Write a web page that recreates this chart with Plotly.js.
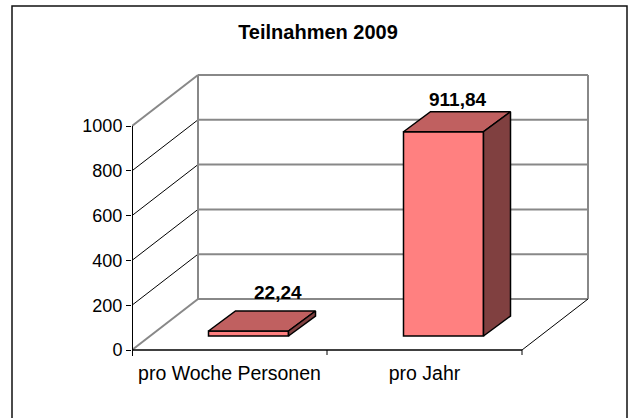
<!DOCTYPE html>
<html>
<head>
<meta charset="utf-8">
<script src="https://cdn.plot.ly/plotly-3.0.1.min.js"></script>
<style>html,body{margin:0;padding:0;background:#fff;}#chart{width:634px;height:418px;}</style>
</head>
<body>
<div id="chart"></div>
<script>
// ---- data ----
const categories = ['pro Woche Personen', 'pro Jahr'];
const values = [22.24, 911.84];
const yTickVals = [0, 200, 400, 600, 800, 1000];
const yTickText = ['0', '200', '400', '600', '800', '1000'];
const chartTitle = 'Teilnahmen 2009';

// ---- geometry / style (pixel based) ----
const W = 634, H = 418;
const PX_CAT = 195;          // px per category (front plane)
const PX_VAL = 0.224;        // px per value unit
const M = {l: 132, r: 42, t: 72, b: 62};
const plotW = W - M.l - M.r, plotH = H - M.t - M.b;
const padBottomPx = 6;
const xMin = -0.5, xMax = xMin + plotW / PX_CAT;
const yMin = -padBottomPx / PX_VAL, yMax = yMin + plotH / PX_VAL;
const DX = 66 / PX_CAT, DY = 51 / PX_VAL;        // wall depth
const FX = 19 / PX_CAT, FY = 14 / PX_VAL;        // bar front-face offset
const BX = 27 / PX_CAT, BY = 20 / PX_VAL;        // bar depth
const BW = 80 / PX_CAT;                          // bar width
const nCat = categories.length;
const xFrontEnd = xMin + nCat;                   // right end of front floor
const labelXShift = [16, 0];
const labelYShift = [6, 0];
const FONT = 'Arial, "Liberation Sans", sans-serif';

const fmt = v => v.toFixed(2).replace('.', ',');
const xc = values.map((v, i) => i + FX);

// ---- traces ----
const front = {
  type: 'bar', x: xc, y: values, base: values.map(() => FY), width: values.map(() => BW),
  marker: {color: '#FF8080', line: {color: '#000', width: 1.5}}, hoverinfo: 'skip'
};
const topX = [], topY = [], sideX = [], sideY = [];
values.forEach((v, i) => {
  const l = xc[i] - BW / 2, r = xc[i] + BW / 2, t = v + FY, b = FY;
  topX.push(l, r, r + BX, l + BX, l, null);
  topY.push(t, t, t + BY, t + BY, t, null);
  sideX.push(r, r + BX, r + BX, r, r, null);
  sideY.push(b, b + BY, t + BY, t, b, null);
});
const topFace = {type: 'scatter', mode: 'lines', x: topX, y: topY, fill: 'toself',
  fillcolor: '#C06060', line: {color: '#000', width: 1.5}, hoverinfo: 'skip', connectgaps: false};
const sideFace = {type: 'scatter', mode: 'lines', x: sideX, y: sideY, fill: 'toself',
  fillcolor: '#804040', line: {color: '#000', width: 1.5}, hoverinfo: 'skip', connectgaps: false};

// ---- wall shapes ----
const shapes = [];
const grey = {color: '#888888', width: 2};
const thin = {color: '#000000', width: 1};
yTickVals.forEach((v, k) => {
  shapes.push({type: 'line', layer: 'below', x0: xMin + DX, x1: xFrontEnd + DX, y0: v + DY, y1: v + DY, line: grey});
  const edge = (k === 0 || k === yTickVals.length - 1);
  shapes.push({type: 'line', layer: 'below', x0: xMin, x1: xMin + DX, y0: v, y1: v + DY, line: edge ? grey : thin});
});
const vTop = yTickVals[yTickVals.length - 1];
shapes.push({type: 'line', layer: 'below', x0: xMin + DX, x1: xMin + DX, y0: DY, y1: vTop + DY, line: grey});
shapes.push({type: 'line', layer: 'below', x0: xFrontEnd + DX, x1: xFrontEnd + DX, y0: DY, y1: vTop + DY, line: grey});
shapes.push({type: 'line', layer: 'below', x0: xFrontEnd, x1: xFrontEnd + DX, y0: 0, y1: DY, line: thin});
shapes.push({type: 'line', layer: 'above', x0: xMin, x1: xFrontEnd, y0: 0, y1: 0, line: {color: '#000', width: 1.5}});
shapes.push({type: 'line', layer: 'above', x0: xMin, x1: xMin, y0: yMin, y1: vTop, line: {color: '#000', width: 2}});
for (let i = 0; i <= nCat; i++) {
  shapes.push({type: 'line', layer: 'above', x0: xMin + i, x1: xMin + i, y0: 0, y1: -5 / PX_VAL, line: {color: '#000', width: 1}});
}
// outer chart border
const px2x = px => (px - M.l) / plotW, px2y = py => (H - M.b - py) / plotH;
shapes.push({type: 'rect', xref: 'paper', yref: 'paper', x0: px2x(12), x1: px2x(627), y0: px2y(6), y1: px2y(425),
  line: {color: '#111', width: 1.5}, fillcolor: 'rgba(0,0,0,0)'});

// ---- annotations ----
const annotations = values.map((v, i) => ({
  x: xc[i] + BX / 2, y: v + FY + BY, xref: 'x', yref: 'y', text: '<b>' + fmt(v) + '</b>',
  showarrow: false, xanchor: 'center', yanchor: 'bottom', xshift: labelXShift[i], yshift: labelYShift[i],
  font: {family: FONT, size: 19, color: '#000'}
}));

const layout = {
  width: W, height: H, margin: M, showlegend: false,
  paper_bgcolor: '#fff', plot_bgcolor: '#fff',
  title: {text: '<b>' + chartTitle + '</b>', xref: 'container', yref: 'container',
    x: 318 / W, y: 1 - 32 / H, xanchor: 'center', yanchor: 'middle',
    font: {family: FONT, size: 20, color: '#000'}},
  xaxis: {range: [xMin, xMax], tickvals: categories.map((c, i) => i), ticktext: categories,
    showgrid: false, zeroline: false, showline: false, ticks: '', ticklabelstandoff: 3,
    tickfont: {family: FONT, size: 19.5, color: '#000'}, fixedrange: true},
  yaxis: {range: [yMin, yMax], tickvals: yTickVals, ticktext: yTickText,
    showgrid: false, zeroline: false, showline: false, ticks: 'outside', ticklen: 5, tickwidth: 1, tickcolor: '#000',
    ticklabelstandoff: 0, tickfont: {family: FONT, size: 18, color: '#000'}, fixedrange: true},
  shapes: shapes, annotations: annotations
};

Plotly.newPlot('chart', [front, topFace, sideFace], layout, {staticPlot: true, displayModeBar: false});
</script>
</body>
</html>
